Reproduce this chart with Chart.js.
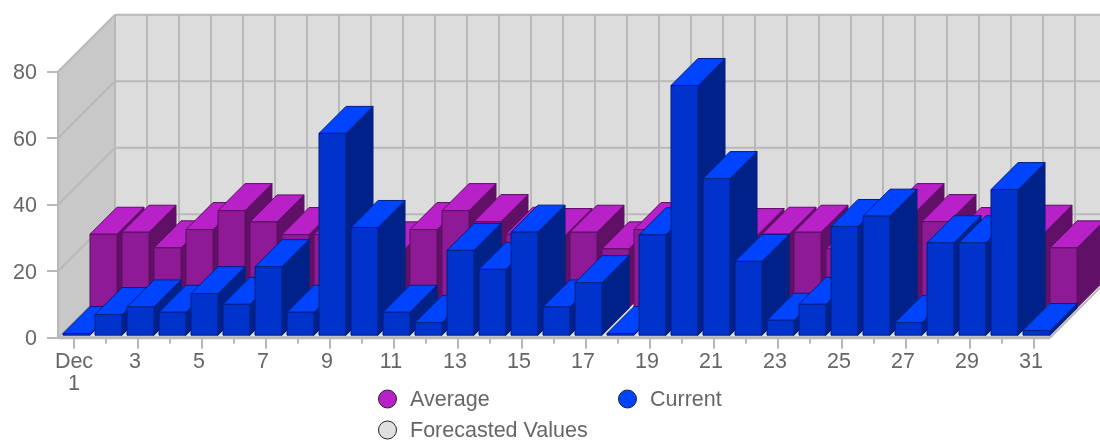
<!DOCTYPE html>
<html>
<head>
<meta charset="utf-8">
<style>
  html, body { margin: 0; padding: 0; background: #fff; }
  canvas { display: block; }
</style>
<script src="https://cdn.jsdelivr.net/npm/chart.js@4"></script>
</head>
<body>
<canvas id="chart" width="1100" height="440"></canvas>
<script>
// --- data ---
const days = [['Dec', '1'], '2', '3', '4', '5', '6', '7', '8', '9', '10', '11', '12', '13', '14', '15', '16',
    '17', '18', '19', '20', '21', '22', '23', '24', '25', '26', '27', '28', '29', '30', '31'];
const average = [22.4, 23, 18.3, 23.8, 29.5, 26.1, 22.3, 22.3, 20, 18, 23.8, 29.5, 26.2, 22.4, 22, 23,
    18, 23.8, 24, 22, 22, 22.4, 23, 18, 22, 29.5, 26.2, 22.3, 22, 23, 18.3];
const current = [0.8, 6.5, 8.8, 7.2, 12.8, 9.6, 20.9, 7.2, 61, 32.7, 7.2, 4.1, 25.8, 20.1, 31.3, 8.8,
    16.1, 0.8, 30.5, 75.4, 47.4, 22.5, 4.8, 9.6, 33, 36.1, 4.1, 28.1, 28.1, 44.1, 1.7];
const forecasted = [];
const yTicks = [0, 20, 40, 60, 80];

// --- 3d look ---
const WALL_DEPTH = 57;
const BOX_DEPTH = 27;
const GRID = '#b8b8b8';
const TEXT = '#666666';
const FONT = 'Liberation Sans, Arial, sans-serif';
const FONT_SIZE = 21.5;

function poly(ctx, pts, fill, stroke) {
    ctx.beginPath();
    pts.forEach((p, i) => i ? ctx.lineTo(p[0], p[1]) : ctx.moveTo(p[0], p[1]));
    ctx.closePath();
    if (fill) { ctx.fillStyle = fill; ctx.fill(); }
    if (stroke) { ctx.strokeStyle = stroke; ctx.lineWidth = 1; ctx.stroke(); }
}

function line(ctx, x0, y0, x1, y1, width) {
    ctx.strokeStyle = GRID;
    ctx.lineWidth = width || 2;
    ctx.beginPath();
    ctx.moveTo(x0, y0);
    ctx.lineTo(x1, y1);
    ctx.stroke();
}

// bar controller that draws each bar as a box, left to right
class Bar3dController extends Chart.BarController {
    draw() {
        const ds = this.getDataset();
        const ctx = this.chart.ctx;
        const d = BOX_DEPTH;
        ctx.save();
        ctx.lineJoin = 'round';
        this.getMeta().data.forEach(bar => {
            const x0 = bar.x - bar.width / 2 + ds.slotX;
            const x1 = x0 + bar.width;
            const top = bar.y - ds.slotY;
            const bottom = bar.base - ds.slotY;
            poly(ctx, [[x1, top], [x1 + d, top - d], [x1 + d, bottom - d], [x1, bottom]], ds.sideColor, ds.edgeColor);
            poly(ctx, [[x0, top], [x1, top], [x1 + d, top - d], [x0 + d, top - d]], ds.topColor, ds.edgeColor);
            poly(ctx, [[x0, top], [x1, top], [x1, bottom], [x0, bottom]], ds.frontColor, ds.edgeColor);
        });
        ctx.restore();
    }
}
Bar3dController.id = 'bar3d';
Chart.register(Bar3dController);

// back wall, left wall, floor and x tick marks
const wallsPlugin = {
    id: 'walls',
    beforeDatasetsDraw(chart) {
        const { ctx, chartArea: a, scales: { x, y } } = chart;
        const w = WALL_DEPTH;
        const band = x.getPixelForValue(1) - x.getPixelForValue(0);
        ctx.save();
        poly(ctx, [[a.left + w, a.top - w], [a.right + w, a.top - w], [a.right + w, a.bottom - w], [a.left + w, a.bottom - w]], '#dcdcdc');
        poly(ctx, [[a.left, a.top], [a.left + w, a.top - w], [a.left + w, a.bottom - w], [a.left, a.bottom]], '#c8c8c8');
        poly(ctx, [[a.left, a.bottom], [a.left + w, a.bottom - w], [a.right + w, a.bottom - w], [a.right, a.bottom]], '#e4e4e4');

        for (let i = 0; i <= days.length; i++) {
            const px = a.left + i * band + w;
            line(ctx, px, a.top - w, px, a.bottom - w);
        }
        yTicks.forEach(v => {
            const py = y.getPixelForValue(v);
            line(ctx, a.left, py, a.left + w, py - w);
            line(ctx, a.left + w, py - w, a.right + w, py - w);
        });
        line(ctx, a.left, a.top, a.left, a.bottom);
        line(ctx, a.left, a.bottom, a.right, a.bottom, 3);
        line(ctx, a.right, a.bottom, a.right + w, a.bottom - w);

        days.forEach((d, i) => {
            const px = x.getPixelForValue(i);
            line(ctx, px, a.bottom, px, a.bottom + (i % 2 ? 6 : 11));
        });
        ctx.restore();
    },
    beforeDraw(chart) {
        // Dec 1 sits right on its tick, the others are a little to the left
        const first = chart.scales.x.getLabelItems()[0];
        if (first && !first.moved) {
            first.options.translation[0] += 3;
            first.moved = true;
        }
    }
};

// two column legend under the chart
const legendPlugin = {
    id: 'legend2col',
    afterDraw(chart) {
        const ctx = chart.ctx;
        const spots = [[387.5, 399], [627.5, 399], [387.5, 430]];
        ctx.save();
        ctx.font = FONT_SIZE + 'px ' + FONT;
        ctx.textBaseline = 'middle';
        chart.data.datasets.forEach((ds, i) => {
            const [cx, cy] = spots[i];
            ctx.beginPath();
            ctx.arc(cx, cy, 9, 0, Math.PI * 2);
            ctx.fillStyle = ds.topColor;
            ctx.fill();
            ctx.strokeStyle = '#222222';
            ctx.lineWidth = 1;
            ctx.stroke();
            ctx.fillStyle = TEXT;
            ctx.fillText(ds.label, cx + 22.5, cy + 1);
        });
        ctx.restore();
    }
};

new Chart(document.getElementById('chart'), {
    type: 'bar3d',
    data: {
        labels: days,
        datasets: [
            {
                label: 'Average', data: average, order: 1, clip: false, slotX: 29.5, slotY: 29,
                topColor: '#b820c8', frontColor: '#8f1a96', sideColor: '#611068', edgeColor: '#5a1060'
            },
            {
                label: 'Current', data: current, order: 0, clip: false, slotX: 2.5, slotY: 1.5,
                topColor: '#0044ff', frontColor: '#0033cc', sideColor: '#002288', edgeColor: '#001f80'
            },
            {
                label: 'Forecasted Values', data: forecasted, order: 2, clip: false, slotX: 0, slotY: 0,
                topColor: '#e0e0e0', frontColor: '#e0e0e0', sideColor: '#e0e0e0', edgeColor: '#e0e0e0'
            }
        ]
    },
    options: {
        responsive: false,
        animation: false,
        grouped: false,
        categoryPercentage: 1,
        barPercentage: 27 / 32,
        layout: { padding: { top: 71.7, right: 50, bottom: 0, left: 0 } },
        plugins: { legend: { display: false }, title: { display: false }, tooltip: { enabled: false } },
        scales: {
            x: {
                type: 'category',
                offset: true,
                afterFit: s => { s.height = 102.3; },
                border: { display: false },
                grid: { display: false, drawTicks: false },
                ticks: {
                    autoSkip: false,
                    maxRotation: 0,
                    padding: 14,
                    labelOffset: -3,
                    color: TEXT,
                    font: { family: FONT, size: FONT_SIZE, lineHeight: 1 },
                    callback(v, i) { return i % 2 ? '' : this.getLabelForValue(v); }
                }
            },
            y: {
                type: 'linear',
                min: 0,
                max: 80,
                afterFit: s => { s.width = 58; },
                border: { display: false },
                grid: { drawOnChartArea: false, tickLength: 11, color: GRID, lineWidth: 2 },
                ticks: {
                    stepSize: 20,
                    padding: 10,
                    labelOffset: 1.5,
                    color: TEXT,
                    font: { family: FONT, size: FONT_SIZE }
                }
            }
        }
    },
    plugins: [wallsPlugin, legendPlugin]
});
</script>
</body>
</html>
